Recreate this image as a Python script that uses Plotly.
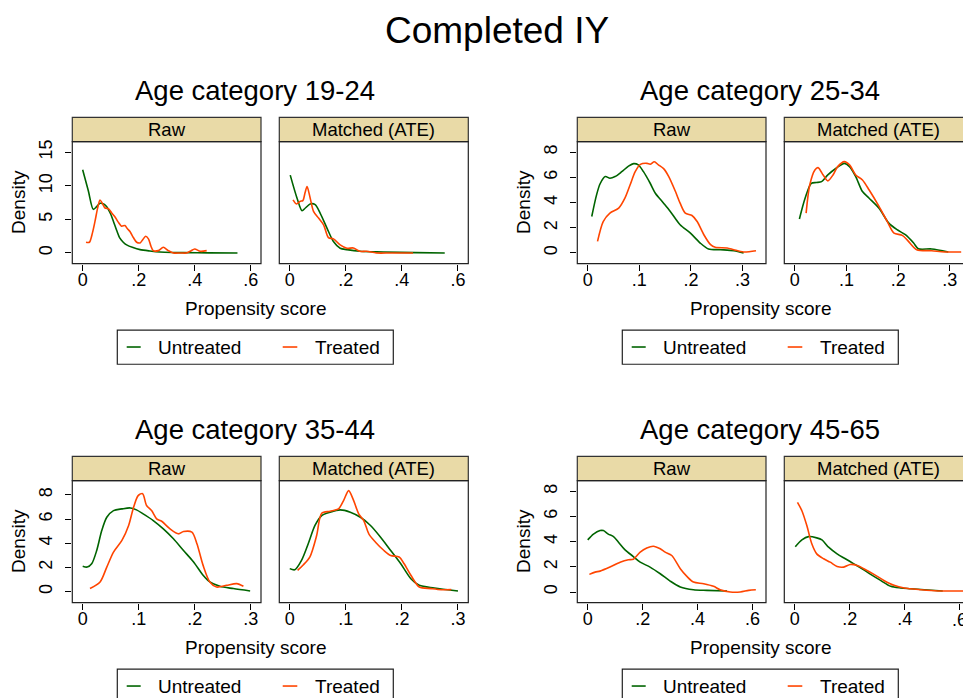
import plotly.graph_objects as go

# ---------------- data ----------------
main_title = "Completed IY"
group_titles = ["Age category 19-24", "Age category 25-34", "Age category 35-44", "Age category 45-65"]
panel_names = ["Raw", "Matched (ATE)"]
series_names = ["Untreated", "Treated"]
x_title = "Propensity score"
y_title = "Density"

x_ticks_a = [0, 0.2, 0.4, 0.6]
x_ticklabels_a = ["0", ".2", ".4", ".6"]
x_ticks_b = [0, 0.1, 0.2, 0.3]
x_ticklabels_b = ["0", ".1", ".2", ".3"]
y_ticks_a = [0, 5, 10, 15]
y_ticks_b = [0, 2, 4, 6, 8]

# Age 19-24
a19_raw_u_x = [0, 0.02, 0.038, 0.05, 0.062, 0.075, 0.086, 0.1, 0.11, 0.122, 0.133, 0.145, 0.157, 0.18, 0.205, 0.24, 0.276, 0.32, 0.36, 0.45, 0.553]
a19_raw_u_y = [12.4, 9.3, 6.5, 6.9, 7.4, 7.3, 6.9, 5.8, 4.7, 3.3, 2.2, 1.6, 1.2, 0.8, 0.5, 0.3, 0.15, 0.08, 0.05, 0.02, 0]
a19_raw_t_x = [0.012, 0.024, 0.035, 0.044, 0.054, 0.062, 0.07, 0.08, 0.092, 0.103, 0.115, 0.127, 0.139, 0.151, 0.16, 0.169, 0.181, 0.193, 0.205, 0.215, 0.225, 0.235, 0.244, 0.252, 0.27, 0.288, 0.306, 0.324, 0.35, 0.371, 0.386, 0.4, 0.42, 0.443]
a19_raw_t_y = [1.6, 1.6, 3.0, 4.7, 6.8, 7.9, 7.4, 6.7, 6.6, 6.0, 5.4, 4.6, 4.0, 4.1, 3.6, 3.2, 2.3, 1.6, 1.5, 2.0, 2.5, 2.1, 1.0, 0.35, 0.35, 0.85, 0.35, 0.0, 0.0, 0.0, 0.3, 0.6, 0.25, 0.35]
a19_mat_u_x = [0.002, 0.026, 0.044, 0.056, 0.073, 0.091, 0.109, 0.133, 0.156, 0.18, 0.204, 0.25, 0.334, 0.45, 0.553]
a19_mat_u_y = [11.6, 8.2, 6.3, 6.7, 7.3, 7.2, 5.9, 3.7, 1.7, 0.7, 0.5, 0.25, 0.15, 0.05, 0]
a19_mat_t_x = [0.012, 0.024, 0.038, 0.047, 0.055, 0.062, 0.073, 0.085, 0.103, 0.121, 0.138, 0.156, 0.18, 0.204, 0.227, 0.25, 0.274, 0.309, 0.36, 0.44]
a19_mat_t_y = [7.9, 7.3, 7.7, 7.8, 9.0, 9.9, 8.2, 6.2, 5.2, 4.2, 2.3, 2.1, 1.2, 0.7, 0.75, 0.25, 0.25, 0.0, 0.0, 0.0]

# Age 25-34
a25_raw_u_x = [0.0078, 0.017, 0.024, 0.034, 0.043, 0.053, 0.066, 0.079, 0.089, 0.098, 0.108, 0.121, 0.131, 0.147, 0.16, 0.179, 0.199, 0.218, 0.234, 0.257, 0.283, 0.302]
a25_raw_u_y = [2.9, 4.6, 5.5, 6.07, 5.94, 6.07, 6.46, 6.9, 7.1, 7.0, 6.46, 5.54, 4.75, 3.96, 3.3, 2.24, 1.58, 0.79, 0.32, 0.26, 0.18, 0.0]
a25_raw_t_x = [0.019, 0.030, 0.043, 0.06, 0.072, 0.082, 0.092, 0.102, 0.115, 0.121, 0.129, 0.137, 0.147, 0.157, 0.17, 0.179, 0.189, 0.202, 0.212, 0.225, 0.238, 0.247, 0.27, 0.283, 0.302, 0.326]
a25_raw_t_y = [0.92, 2.5, 3.17, 3.56, 4.35, 5.4, 6.46, 7.04, 7.12, 7.05, 7.25, 7.0, 6.7, 6.07, 4.88, 3.96, 3.17, 2.98, 2.5, 1.45, 0.66, 0.45, 0.4, 0.26, 0.08, 0.18]
a25_mat_u_x = [0.009, 0.02, 0.032, 0.042, 0.052, 0.064, 0.08, 0.096, 0.106, 0.118, 0.131, 0.144, 0.163, 0.182, 0.198, 0.214, 0.23, 0.239, 0.265, 0.297]
a25_mat_u_y = [2.7, 4.35, 5.54, 5.6, 5.67, 6.2, 6.73, 7.12, 6.86, 6.07, 4.88, 4.35, 3.56, 2.37, 1.85, 1.45, 0.79, 0.34, 0.32, 0.08]
a25_mat_t_x = [0.022, 0.029, 0.039, 0.045, 0.055, 0.064, 0.074, 0.083, 0.096, 0.106, 0.118, 0.131, 0.144, 0.163, 0.179, 0.192, 0.208, 0.22, 0.236, 0.265, 0.29, 0.322]
a25_mat_t_y = [3.17, 5.4, 6.6, 6.78, 6.2, 5.73, 6.2, 6.86, 7.26, 7.0, 6.2, 5.8, 5.0, 3.7, 2.5, 1.58, 1.4, 0.92, 0.26, 0.18, 0.08, 0.08]

# Age 35-44
a35_raw_u_x = [0, 0.008, 0.016, 0.025, 0.034, 0.043, 0.055, 0.07, 0.085, 0.096, 0.108, 0.126, 0.144, 0.162, 0.18, 0.198, 0.215, 0.227, 0.245, 0.269, 0.299]
a35_raw_u_y = [2.1, 2.03, 2.3, 3.4, 5.05, 6.15, 6.7, 6.84, 6.92, 6.76, 6.43, 5.88, 5.19, 4.37, 3.4, 2.45, 1.35, 0.8, 0.44, 0.25, 0.05]
a35_raw_t_x = [0.013, 0.031, 0.043, 0.055, 0.07, 0.082, 0.09, 0.099, 0.107, 0.114, 0.123, 0.132, 0.141, 0.156, 0.171, 0.18, 0.195, 0.204, 0.215, 0.227, 0.239, 0.257, 0.275, 0.287]
a35_raw_t_y = [0.25, 0.8, 2.03, 3.27, 4.23, 5.47, 6.84, 7.94, 8.1, 7.12, 6.7, 6.02, 5.82, 5.19, 4.78, 4.97, 4.92, 3.96, 2.17, 0.8, 0.38, 0.52, 0.66, 0.44]
a35_mat_u_x = [0, 0.009, 0.021, 0.033, 0.045, 0.057, 0.072, 0.09, 0.108, 0.126, 0.144, 0.162, 0.18, 0.198, 0.216, 0.231, 0.258, 0.3]
a35_mat_u_y = [1.9, 1.81, 2.58, 3.96, 5.47, 6.29, 6.57, 6.76, 6.57, 6.15, 5.47, 4.5, 3.4, 2.3, 1.07, 0.52, 0.3, 0.05]
a35_mat_t_x = [0.014, 0.024, 0.036, 0.048, 0.057, 0.072, 0.087, 0.096, 0.105, 0.114, 0.123, 0.132, 0.141, 0.153, 0.168, 0.18, 0.195, 0.204, 0.216, 0.231, 0.252, 0.27, 0.288]
a35_mat_t_y = [1.76, 2.2, 2.88, 4.64, 6.48, 6.65, 6.84, 7.53, 8.35, 7.53, 6.43, 5.88, 4.78, 4.09, 3.4, 2.99, 2.86, 2.3, 1.35, 0.38, 0.25, 0.16, 0.16]

# Age 45-65
a45_raw_u_x = [0, 0.021, 0.045, 0.057, 0.075, 0.094, 0.112, 0.136, 0.166, 0.191, 0.227, 0.264, 0.3, 0.337, 0.385, 0.434, 0.507]
a45_raw_u_y = [4.14, 4.6, 4.88, 4.88, 4.6, 4.4, 3.96, 3.35, 2.82, 2.37, 1.98, 1.45, 0.87, 0.4, 0.18, 0.13, 0.08]
a45_raw_t_x = [0.006, 0.027, 0.045, 0.081, 0.118, 0.148, 0.166, 0.191, 0.215, 0.239, 0.264, 0.282, 0.306, 0.337, 0.361, 0.385, 0.422, 0.458, 0.482, 0.519, 0.555, 0.586, 0.612]
a45_raw_t_y = [1.4, 1.58, 1.66, 1.98, 2.37, 2.56, 2.6, 3.17, 3.5, 3.64, 3.43, 3.17, 2.9, 1.85, 1.24, 0.79, 0.66, 0.45, 0.18, 0.0, 0.0, 0.13, 0.18]
a45_mat_u_x = [0.002, 0.026, 0.05, 0.08, 0.099, 0.123, 0.154, 0.184, 0.215, 0.245, 0.276, 0.312, 0.349, 0.385, 0.422, 0.471, 0.538]
a45_mat_u_y = [3.6, 4.14, 4.4, 4.3, 4.14, 3.56, 3.03, 2.64, 2.24, 1.85, 1.4, 0.92, 0.45, 0.32, 0.26, 0.18, 0.08]
a45_mat_t_x = [0.01, 0.026, 0.044, 0.062, 0.08, 0.105, 0.129, 0.154, 0.178, 0.202, 0.227, 0.251, 0.288, 0.324, 0.361, 0.398, 0.459, 0.52, 0.58, 0.617]
a45_mat_t_y = [7.12, 6.46, 5.28, 3.83, 3.03, 2.64, 2.37, 2.03, 1.98, 2.19, 2.11, 1.85, 1.4, 0.92, 0.53, 0.32, 0.18, 0.08, 0.08, 0.08]

# ---------------- styling / layout ----------------
VIEW_W, VIEW_H = 963, 698
OFF = 0                      # body margin removed by post_script below
FW, FH = VIEW_W - OFF, VIEW_H - OFF
FONT = "Liberation Sans, Arial, sans-serif"
GREEN = "#006400"
ORANGE = "#FF4500"
STRIP = "#E9DAA7"
TICK_SIZE = 18


def fx(p):
    return (p - OFF) / FW


def fy(p):
    return 1 - (p - OFF) / FH


groups = [
    dict(title=group_titles[0], dx=0, dy=0, xr=(-0.037, 0.637), yr=(-1.574, 16.59),
         xt=x_ticks_a, xl=x_ticklabels_a, yt=y_ticks_a,
         data=[((a19_raw_u_x, a19_raw_u_y), (a19_raw_t_x, a19_raw_t_y)),
               ((a19_mat_u_x, a19_mat_u_y), (a19_mat_t_x, a19_mat_t_y))]),
    dict(title=group_titles[1], dx=505, dy=0, xr=(-0.0202, 0.3454), yr=(-0.84, 8.85),
         xt=x_ticks_b, xl=x_ticklabels_b, yt=y_ticks_b,
         data=[((a25_raw_u_x, a25_raw_u_y), (a25_raw_t_x, a25_raw_t_y)),
               ((a25_mat_u_x, a25_mat_u_y), (a25_mat_t_x, a25_mat_t_y))]),
    dict(title=group_titles[2], dx=0, dy=340, xr=(-0.0186, 0.3184), yr=(-0.907, 9.18),
         xt=x_ticks_b, xl=x_ticklabels_b, yt=y_ticks_b,
         data=[((a35_raw_u_x, a35_raw_u_y), (a35_raw_t_x, a35_raw_t_y)),
               ((a35_mat_u_x, a35_mat_u_y), (a35_mat_t_x, a35_mat_t_y))]),
    dict(title=group_titles[3], dx=505, dy=340, xr=(-0.0379, 0.649), yr=(-0.84, 8.85),
         xt=x_ticks_a, xl=x_ticklabels_a, yt=y_ticks_b,
         data=[((a45_raw_u_x, a45_raw_u_y), (a45_raw_t_x, a45_raw_t_y)),
               ((a45_mat_u_x, a45_mat_u_y), (a45_mat_t_x, a45_mat_t_y))]),
]

panel_cols = [(72.3, 261.0), (279.3, 468.3)]
plot_top, plot_bot = 140.0, 262.3
strip_top = 115.7

fig = go.Figure()
layout = dict(width=FW, height=FH, margin=dict(l=0, r=0, t=0, b=0, pad=0),
              paper_bgcolor="white", plot_bgcolor="white", showlegend=False,
              font=dict(family=FONT, color="black"))
shapes = []
annotations = []

annotations.append(dict(text=main_title, x=fx(497.5), y=fy(29), xref="paper", yref="paper",
                        showarrow=False, xanchor="center", yanchor="middle",
                        font=dict(size=37, family=FONT, color="black")))

ax_i = 0
for g in groups:
    dx, dy = g["dx"], g["dy"]
    t, b = plot_top + dy, plot_bot + dy
    for p, (c0, c1) in enumerate(panel_cols):
        ax_i += 1
        x0, x1 = c0 + dx, c1 + dx
        vis1 = min(x1, VIEW_W)
        r0, r1 = g["xr"]
        rend = r0 + (vis1 - x0) / (x1 - x0) * (r1 - r0)
        xname = "xaxis" if ax_i == 1 else f"xaxis{ax_i}"
        yname = "yaxis" if ax_i == 1 else f"yaxis{ax_i}"
        xid = "x" if ax_i == 1 else f"x{ax_i}"
        yid = "y" if ax_i == 1 else f"y{ax_i}"
        layout[xname] = dict(domain=[fx(x0), min(fx(vis1), 1.0)], range=[r0, rend], anchor=yid,
                             tickvals=g["xt"], ticktext=g["xl"], ticks="outside", ticklen=6,
                             tickwidth=1, tickcolor="black", showgrid=False, zeroline=False,
                             showline=False, tickfont=dict(size=TICK_SIZE, family=FONT, color="black"),
                             ticklabelstandoff=-6, fixedrange=True)
        ycfg = dict(domain=[fy(b), fy(t)], range=list(g["yr"]), anchor=xid,
                    showgrid=False, zeroline=False, showline=False, fixedrange=True)
        if p == 0:
            ycfg.update(tickvals=g["yt"], ticktext=[str(v) for v in g["yt"]], ticks="outside",
                        ticklen=6, tickwidth=1, tickcolor="black", tickangle=-90,
                        tickfont=dict(size=TICK_SIZE, family=FONT, color="black"),
                        ticklabelstandoff=6)
        else:
            ycfg.update(showticklabels=False, ticks="")
        layout[yname] = ycfg

        # tick label that sits on the picture's right edge (partly cut off there)
        if x1 > VIEW_W:
            for tv, tl in zip(g["xt"], g["xl"]):
                px = x0 + (tv - r0) / (r1 - r0) * (x1 - x0)
                if px + 4 > VIEW_W:
                    annotations.append(dict(text=tl, x=tv, y=fy(b + 17), xref=xid, yref="paper",
                                            showarrow=False, xanchor="center", yanchor="middle",
                                            font=dict(size=TICK_SIZE, family=FONT, color="black")))

        (ux, uy), (tx, ty) = g["data"][p]
        fig.add_trace(go.Scatter(x=ux, y=uy, mode="lines", xaxis=xid, yaxis=yid,
                                 name=series_names[0], hoverinfo="skip",
                                 line=dict(color=GREEN, width=1.6, shape="spline", smoothing=0.8)))
        fig.add_trace(go.Scatter(x=tx, y=ty, mode="lines", xaxis=xid, yaxis=yid,
                                 name=series_names[1], hoverinfo="skip",
                                 line=dict(color=ORANGE, width=1.6, shape="spline", smoothing=0.8)))

        # plot box
        shapes.append(dict(type="rect", xref="paper", yref="paper",
                           x0=fx(x0), x1=fx(x1), y0=fy(b), y1=fy(t),
                           line=dict(color="#222222", width=1.2), fillcolor="rgba(0,0,0,0)", layer="above"))
        # strip
        shapes.append(dict(type="rect", xref="paper", yref="paper",
                           x0=fx(x0), x1=fx(x1), y0=fy(t), y1=fy(strip_top + dy),
                           line=dict(color="#333333", width=1.2), fillcolor=STRIP, layer="below"))
        annotations.append(dict(text=panel_names[p], x=fx((x0 + x1) / 2), y=fy((strip_top + dy + t) / 2),
                                xref="paper", yref="paper", showarrow=False,
                                xanchor="center", yanchor="middle",
                                font=dict(size=18.5, family=FONT, color="black")))

    # group title
    annotations.append(dict(text=g["title"], x=fx(255 + dx), y=fy(89 + dy), xref="paper", yref="paper",
                            showarrow=False, xanchor="center", yanchor="middle",
                            font=dict(size=27.5, family=FONT, color="black")))
    # y title
    annotations.append(dict(text=y_title, x=fx(18.5 + dx), y=fy(201 + dy), xref="paper", yref="paper",
                            showarrow=False, xanchor="center", yanchor="middle", textangle=-90,
                            font=dict(size=19, family=FONT, color="black")))
    # x title
    annotations.append(dict(text=x_title, x=fx(256 + dx), y=fy(307 + dy), xref="paper", yref="paper",
                            showarrow=False, xanchor="center", yanchor="middle",
                            font=dict(size=19, family=FONT, color="black")))
    # legend box
    shapes.append(dict(type="rect", xref="paper", yref="paper",
                       x0=fx(117.3 + dx), x1=fx(393.3 + dx), y0=fy(363.3 + dy), y1=fy(329 + dy),
                       line=dict(color="#222222", width=1.2), fillcolor="white"))
    ly = 346 + dy
    shapes.append(dict(type="line", xref="paper", yref="paper", x0=fx(126.7 + dx), x1=fx(140.7 + dx),
                       y0=fy(ly), y1=fy(ly), line=dict(color=GREEN, width=1.6)))
    shapes.append(dict(type="line", xref="paper", yref="paper", x0=fx(282.7 + dx), x1=fx(297.3 + dx),
                       y0=fy(ly), y1=fy(ly), line=dict(color=ORANGE, width=1.6)))
    annotations.append(dict(text=series_names[0], x=fx(156 + dx), y=fy(ly), xref="paper", yref="paper",
                            showarrow=False, xanchor="left", yanchor="middle",
                            font=dict(size=19, family=FONT, color="black")))
    annotations.append(dict(text=series_names[1], x=fx(312.5 + dx), y=fy(ly), xref="paper", yref="paper",
                            showarrow=False, xanchor="left", yanchor="middle",
                            font=dict(size=19, family=FONT, color="black")))

layout["shapes"] = shapes
layout["annotations"] = annotations
fig.update_layout(**layout)
fig.write_html("out.html", config={"displayModeBar": False},
               post_script="document.body.style.margin='0';document.body.style.overflow='hidden';")
